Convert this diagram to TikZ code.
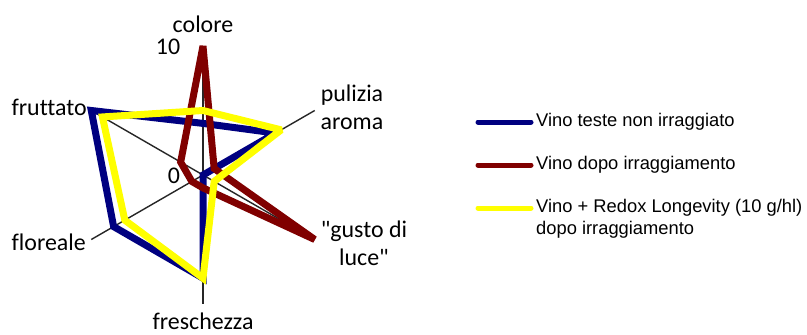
\documentclass[tikz,border=0pt]{standalone}
\usepackage{fontspec}
\setmainfont{Carlito}[Ligatures={TeXOff,NoCommon}]
\newfontfamily\legfont{Liberation Sans}
\definecolor{sblue}{HTML}{000080}
\definecolor{sred}{HTML}{800000}
\definecolor{syellow}{HTML}{FFFF00}
\definecolor{axisgray}{HTML}{262626}
\begin{document}
\begin{tikzpicture}[x=1bp,y=1bp,
  axisline/.style={draw=axisgray,line width=1.4bp},
  series/.style={line width=7bp,line join=miter,miter limit=2},
  lab/.style={font=\fontsize{24}{28.5}\selectfont,inner sep=0pt,align=center},
  legline/.style={line width=5bp,line cap=round},
  legtext/.style={font=\legfont\fontsize{18.4}{22}\selectfont,inner sep=0pt,anchor=west,align=left}]
\useasboundingbox (0,0) rectangle (807,334);
\fill[white] (0,0) rectangle (807,334);
\begin{scope}[shift={(203,159)}]
  \coordinate (C) at (0,0);
  \foreach \a/\n in {90/colore,30/pulizia,-30/gusto,-90/fresch,210/floreale,150/fruttato}
    \coordinate (ax\n) at (\a:129);
  \foreach \n in {colore,pulizia,gusto,fresch,floreale,fruttato}
    \draw[axisline] (C) -- (ax\n);
  % Vino teste non irraggiato
  \draw[series,sblue] (90:4*12.9) -- (30:6.5*12.9) -- (-30:0.05) -- (-90:8*12.9)
     -- (210:8*12.9) -- (150:10*12.9) -- cycle;
  % Vino dopo irraggiamento
  \draw[series,sred] (90:10*12.9) -- (30:1*12.9) -- (-30:10*12.9) -- (-90:1*12.9)
     -- (210:1*12.9) -- (150:2*12.9) -- cycle;
  % Vino + Redox Longevity
  \draw[series,syellow] (90:5*12.9) -- (30:7*12.9) -- (-30:1*12.9) -- (-90:8*12.9)
     -- (210:7*12.9) -- (150:9*12.9) -- cycle;
\end{scope}
\node[lab] (lcolore) at (203,310) {colore};
\node[lab] (lten) at (168,287) {10};
\node[lab] (lzero) at (174,158) {0};
\node[lab] (lpulizia) at (352,226.5) {pulizia\\aroma};
\node[lab] (lgusto) at (364,91) {"gusto di\\luce"};
\node[lab,anchor=east] (lfruttato) at (87,227) {fruttato};
\node[lab,anchor=east] (lfloreale) at (86,92) {floreale};
\node[lab,anchor=base] (lfresch) at (203,5) {freschezza};
% legend
\coordinate (b1) at (478,212); \coordinate (b2) at (531,212);
\coordinate (r1) at (478,169); \coordinate (r2) at (531,169);
\coordinate (y1) at (478,126); \coordinate (y2) at (531,126);
\draw[legline,sblue] (b1) -- (b2);
\draw[legline,sred] (r1) -- (r2);
\draw[legline,syellow] (y1) -- (y2);
\node[legtext] (tb) at (536,212) {Vino teste non irraggiato};
\node[legtext] (tr) at (536,169) {Vino dopo irraggiamento};
\node[legtext] (ty) at (536,115) {Vino + Redox Longevity (10 g/hl)\\dopo irraggiamento};
\end{tikzpicture}
\end{document}
